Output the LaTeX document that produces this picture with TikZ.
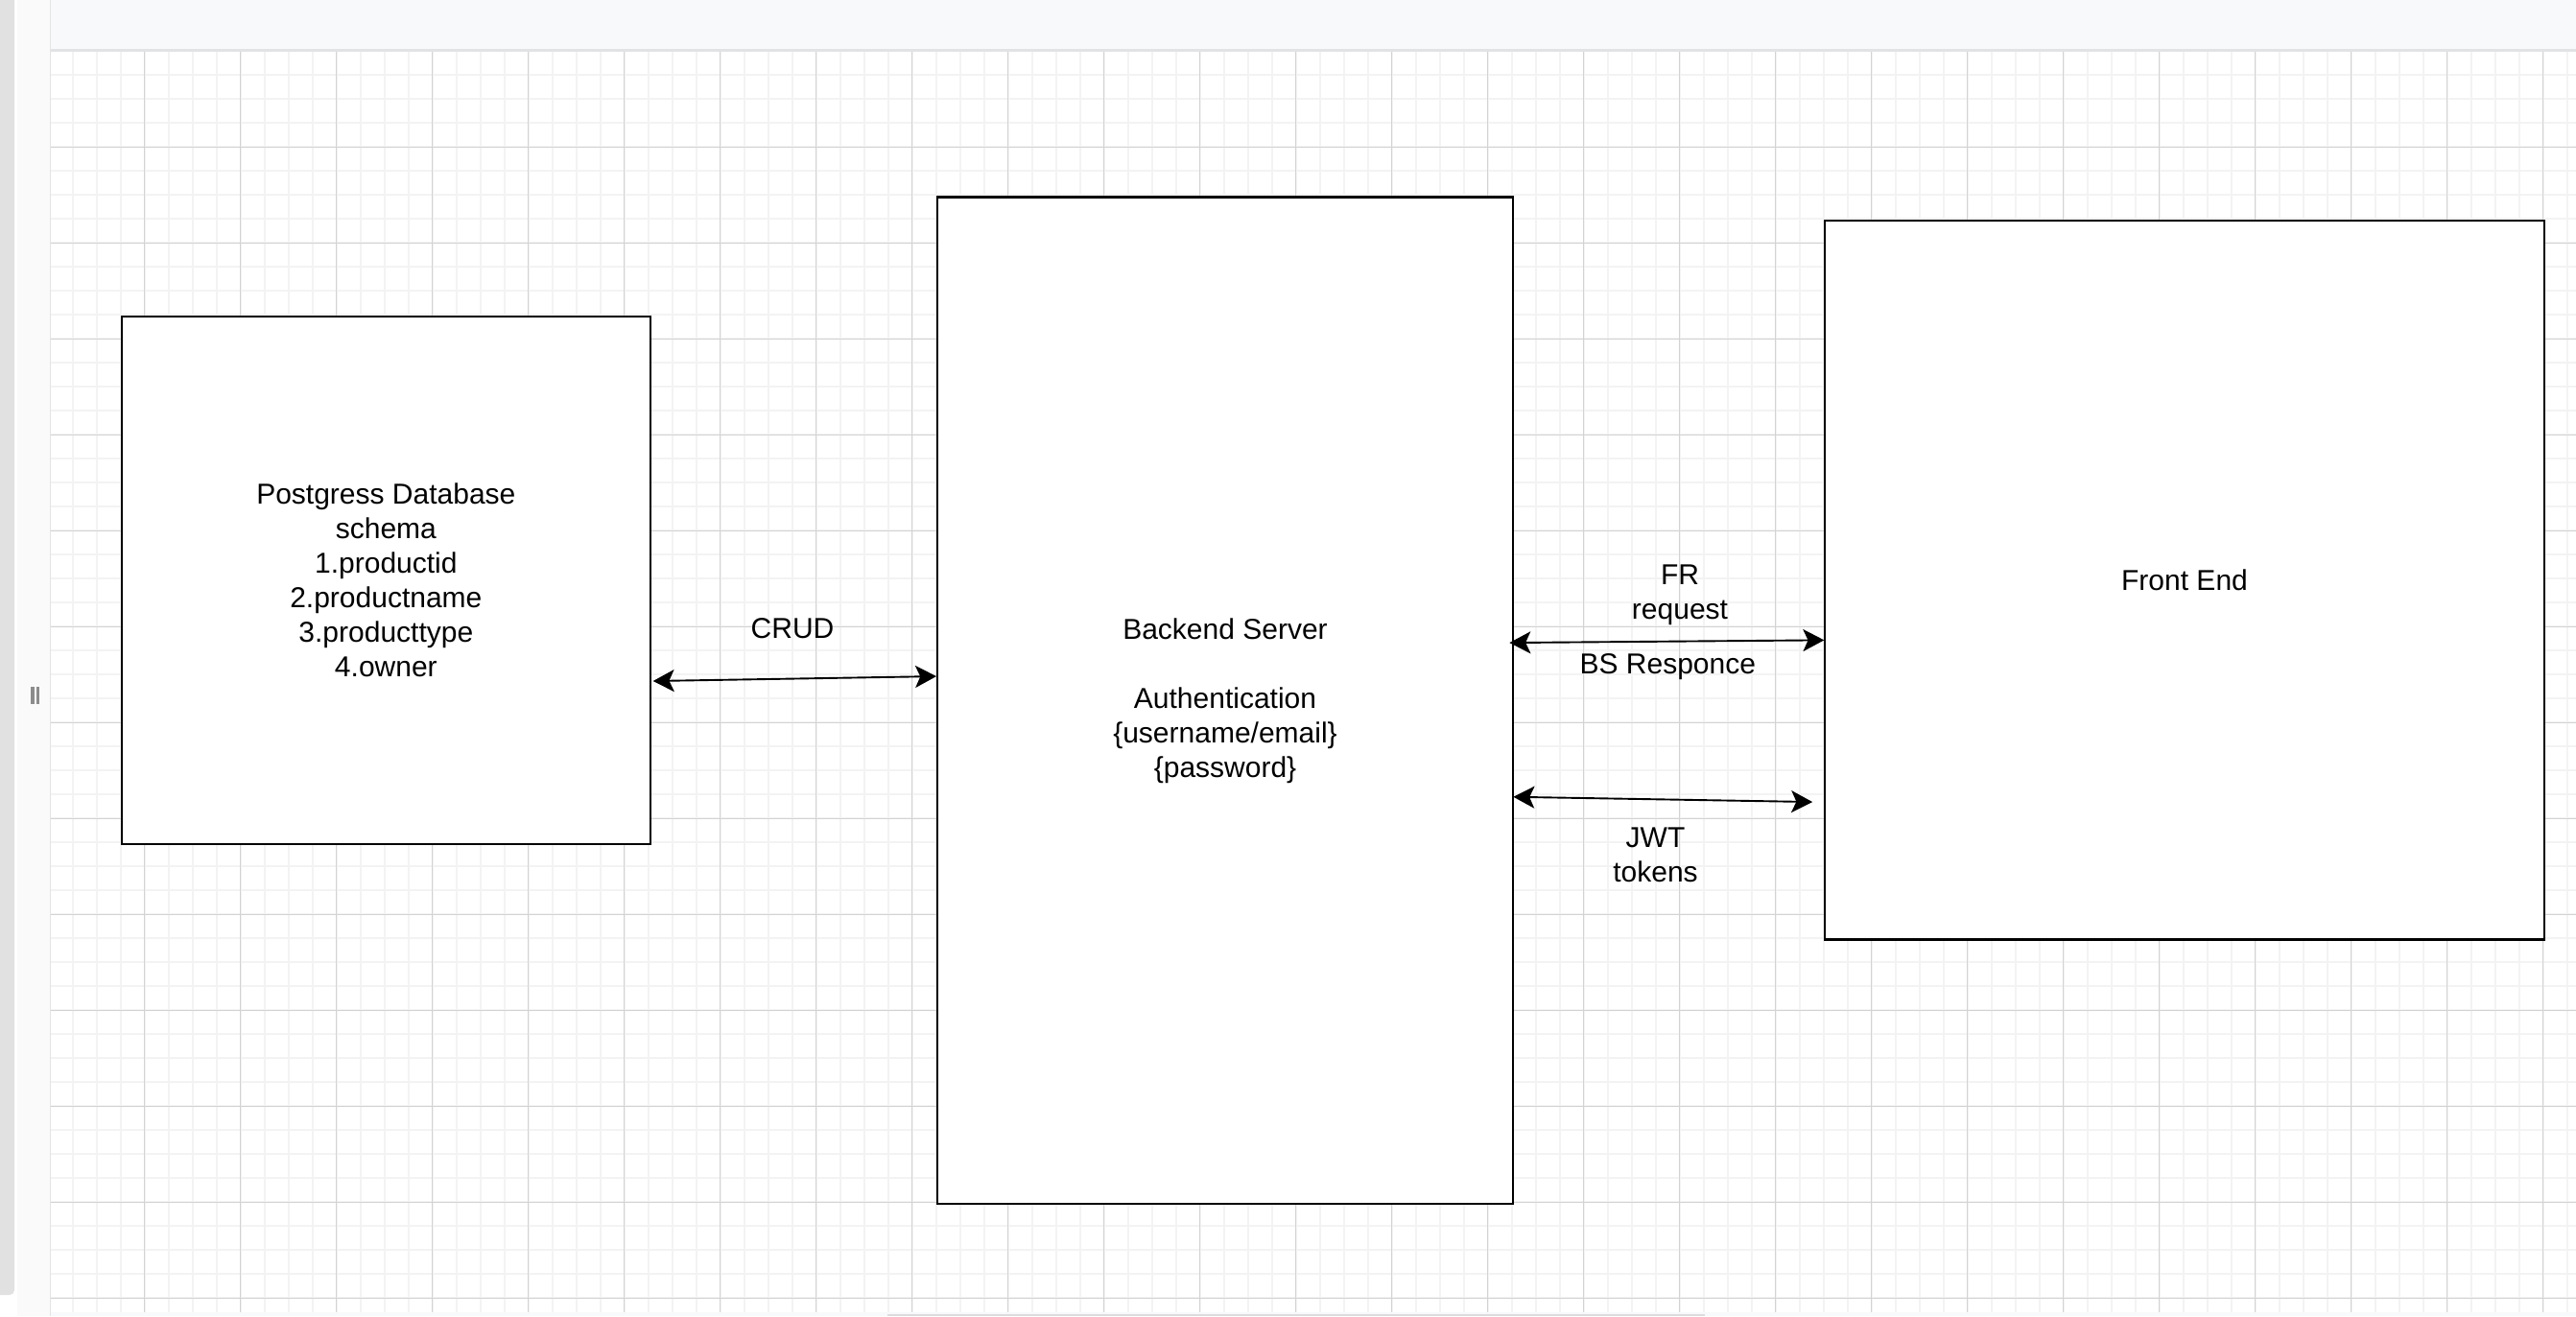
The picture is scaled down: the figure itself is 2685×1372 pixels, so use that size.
\documentclass[tikz,border=0pt]{standalone}
\usepackage{fontspec}
\setmainfont{Liberation Sans}
\usetikzlibrary{arrows.meta,calc}
\definecolor{topbar}{HTML}{F8F9FA}
\definecolor{barline}{HTML}{E2E3E5}
\definecolor{stripgray}{HTML}{E1E1E1}
\definecolor{panelgray}{HTML}{FAFAFA}
\definecolor{panelline}{HTML}{E4E4E4}
\definecolor{gridminor}{HTML}{F3F3F3}
\definecolor{gridmajor}{HTML}{D3D3D3}
\definecolor{handlegray}{HTML}{8C8C8C}
\definecolor{scrollgray}{HTML}{DCDCDC}
\newcommand\dgfont{\fontsize{15pt}{18pt}\selectfont}
\begin{document}
\begin{tikzpicture}[x=0.5pt,y=-0.5pt,
  box/.style={draw=black, line width=1.15pt, fill=white, align=center, font=\dgfont, inner sep=0pt},
  lbl/.style={align=center, font=\dgfont, inner sep=0pt},
  link/.style={line width=0.95pt, {Stealth[length=11pt,width=11.5pt,inset=2.6pt]}-{Stealth[length=11pt,width=11.5pt,inset=2.6pt]}}]
\useasboundingbox (0,0) rectangle (2685,1372);
\fill[white] (0,0) rectangle (2685,1372);
% grid
\begin{scope}
\clip (53,54) rectangle (2685,1368);
\foreach \k in {0,...,105} \draw[gridminor, line width=1pt] (75.7+25*\k,54) -- (75.7+25*\k,1368);
\foreach \k in {1,...,52} \draw[gridminor, line width=1pt] (53,53.3+25*\k) -- (2685,53.3+25*\k);
\foreach \k in {0,...,25} \draw[gridmajor, line width=0.5pt] (150.7+100*\k,54) -- (150.7+100*\k,1368);
\foreach \k in {0,...,12} \draw[gridmajor, line width=0.5pt] (53,153.3+100*\k) -- (2685,153.3+100*\k);
\end{scope}
% top bar
\fill[topbar] (53,0) rectangle (2685,50.5);
\fill[barline] (53,50.5) rectangle (2685,53.5);
% left panel
\fill[panelgray] (18,0) rectangle (51.7,1372);
\fill[panelline] (51.7,0) rectangle (53.3,1372);
\fill[stripgray, rounded corners=2.5pt] (-20,-20) rectangle (15,1350);
\fill[handlegray] (32.3,716) rectangle (35.7,734);
\fill[handlegray] (37.7,716) rectangle (41,734);
% bottom
\fill[topbar] (53.3,1368) rectangle (2685,1372);
\fill[scrollgray] (925,1369.5) rectangle (1777,1372);
% boxes
\node[box, minimum width=275.65pt, minimum height=275pt] (db) at (402.35,605)
  {Postgress Database\\schema\\1.productid\\2.productname\\3.producttype\\4.owner};
\node[box, minimum width=300pt, minimum height=524.75pt] (be) at (1277,730.25)
  {Backend Server\\[18pt]Authentication\\\{username/email\}\\\{password\}};
\node[box, minimum width=374.7pt, minimum height=374.75pt] (fe) at (2277,604.75) {Front End};
% labels
\node[lbl, anchor=base] (crud) at (826,665) {CRUD};
\node[lbl] (frreq) at (1751,620.4) {FR\\request};
\node[lbl, anchor=base] (bsresp) at (1738.3,702.7) {BS Responce};
\node[lbl] (jwt) at (1725.5,891.25) {JWT\\tokens};
% connectors
\draw[link] ($(db.east)+(1.5,105)$) -- ($(be.west)+(0.2,-25.2)$);
\draw[link] ($(be.east)+(-4.8,-60.2)$) -- ($(fe.west)+(0.2,62.6)$);
\draw[link] ($(be.east)+(-0.8,100.5)$) -- ($(fe.west)+(-12,231.3)$);
\end{tikzpicture}
\end{document}
